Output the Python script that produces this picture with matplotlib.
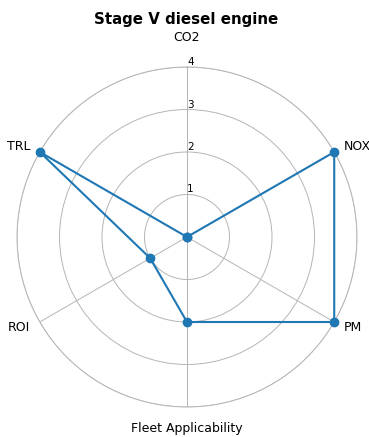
import numpy as np
import matplotlib
matplotlib.use("Agg")
import matplotlib.pyplot as plt

# Données
categories = ['CO2', 'NOX', 'PM', 'Fleet Applicability', 'ROI', 'TRL']
values = [0, 4, 4, 2, 1, 4]
rings = [1, 2, 3, 4]
title = 'Stage V diesel engine'

angles = np.linspace(0, 2*np.pi, len(categories), endpoint=False)
a = np.concatenate([angles, angles[:1]])
v = values + values[:1]

fig = plt.figure(figsize=(3.69, 4.37), dpi=100)
ax = fig.add_axes([17/369, 30/437, 340/369, 340/437], projection='polar')
ax.set_theta_zero_location('N')
ax.set_theta_direction(-1)

ax.plot(a, v, color='#1f77b4', lw=1.5, marker='o', ms=6, clip_on=False, zorder=3)

ax.set_ylim(0, 4)
ax.set_yticks(rings)
ax.set_yticklabels([str(r) for r in rings], fontsize=7.5)
ax.set_rlabel_position(0)
ax.set_xticks(angles)
ax.set_xticklabels([])
ax.grid(color='#b5b5b5', lw=0.7)
ax.spines['polar'].set_color('#b5b5b5')
ax.spines['polar'].set_linewidth(0.7)

# étiquettes des axes
rmax = rings[-1]
for ang, lab in zip(angles, categories):
    if np.isclose(ang, 0):
        ax.text(ang, rmax*1.175, lab, ha='center', va='center', fontsize=9, clip_on=False)
    elif np.isclose(ang, np.pi):
        ax.text(ang, rmax*1.125, lab, ha='center', va='center', fontsize=9, clip_on=False)
    else:
        d = 8
        dx, dy = d*np.sin(ang), d*np.cos(ang)
        ax.annotate(lab, xy=(ang, rmax), xytext=(dx, dy), textcoords='offset points',
                    ha='left' if ang < np.pi else 'right', va='center',
                    fontsize=9, annotation_clip=False)

fig.text(0.505, 1 - 24/437, title, ha='center', va='baseline', fontsize=10.8, fontweight='bold')

fig.savefig('out.png', dpi=100)
